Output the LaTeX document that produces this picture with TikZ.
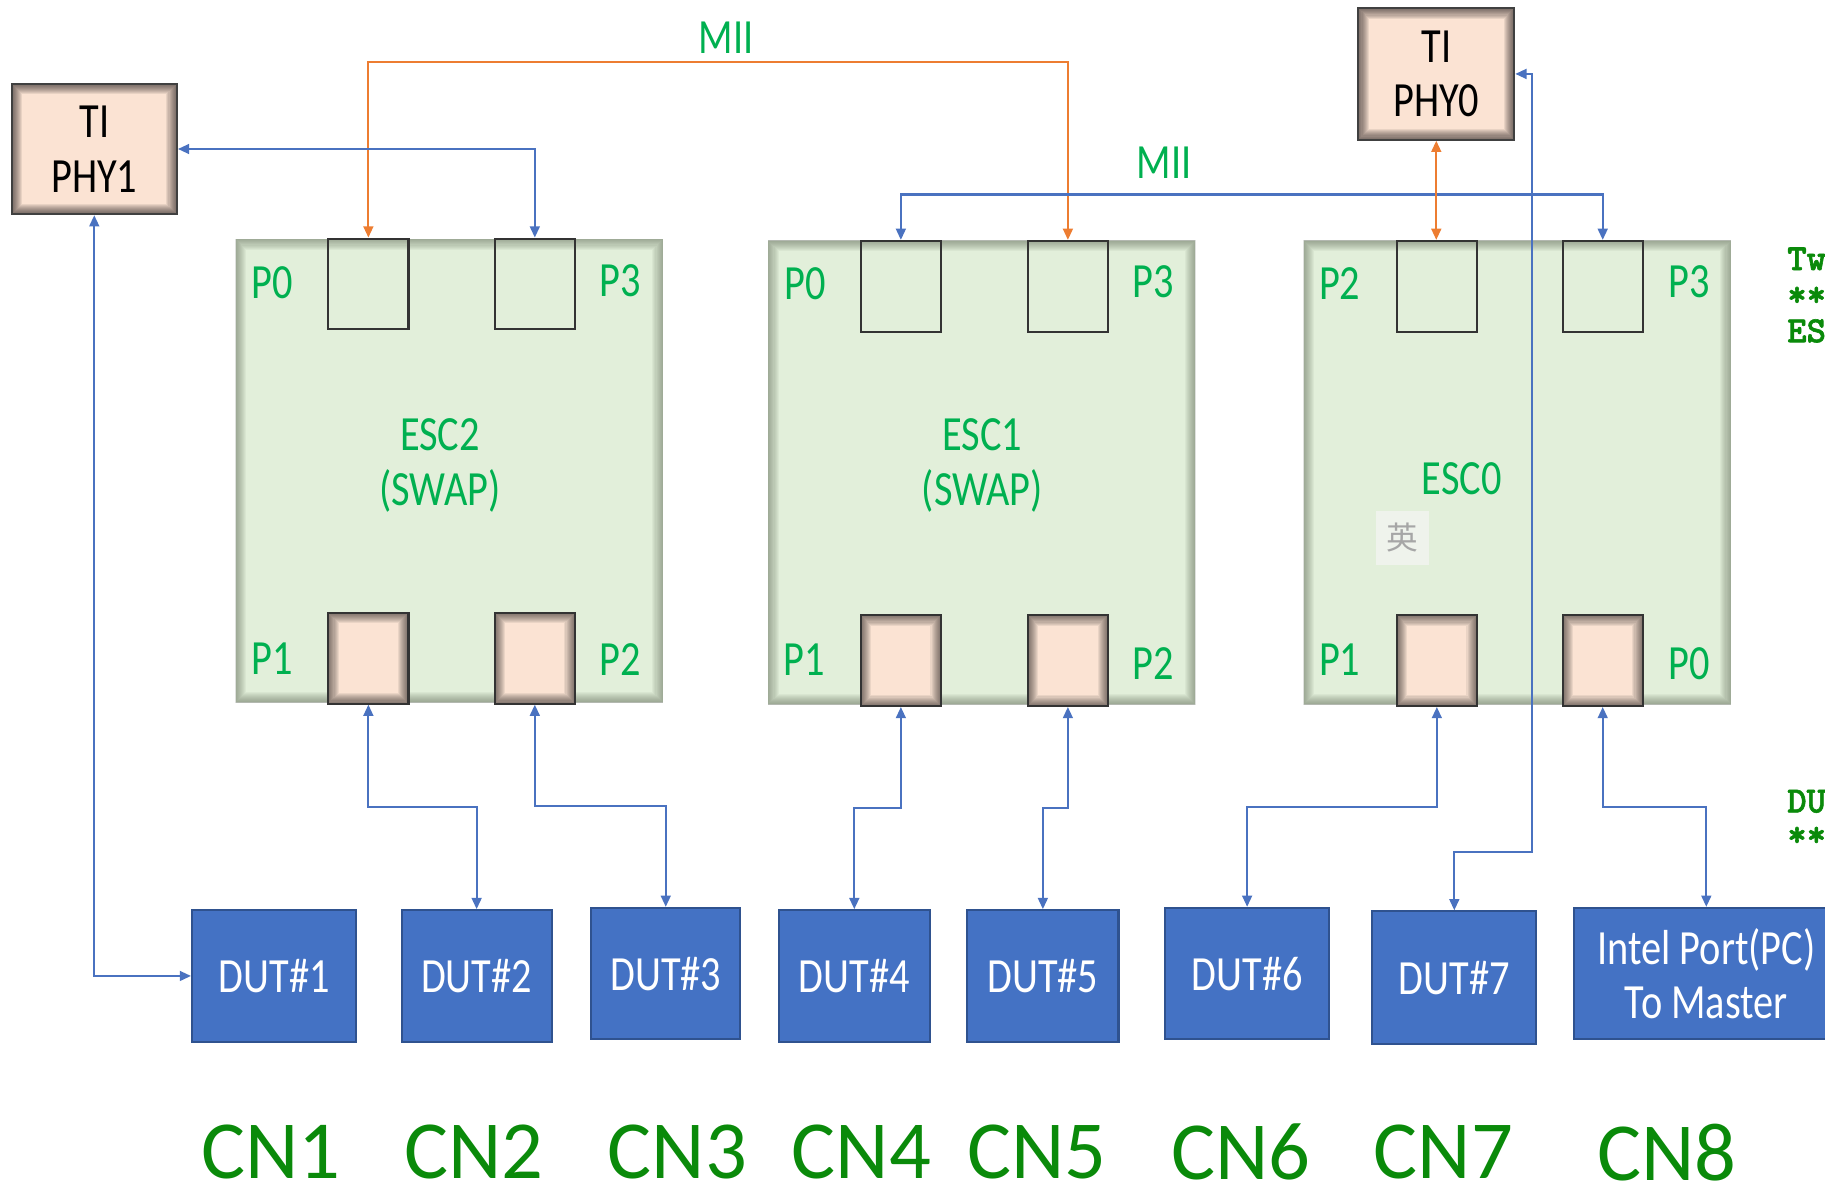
\documentclass[tikz,border=0pt]{standalone}
\usepackage{fontspec}
\setmainfont{Carlito}
\newfontfamily\narrowfont[FakeStretch=0.82]{Carlito}
\newfontfamily\codefont[FakeBold=1.6]{lmmonolt10-bold.otf}
\newfontfamily\cjkfont{Noto Sans CJK SC}
\usetikzlibrary{arrows.meta}
\definecolor{escfill}{HTML}{E2EFDA}
\definecolor{escshade}{HTML}{4E5A48}
\definecolor{phyfill}{HTML}{FBE3D3}
\definecolor{physhade}{HTML}{2A2424}
\definecolor{dutblue}{HTML}{4472C4}
\definecolor{dutedge}{HTML}{2F528F}
\definecolor{wireblue}{HTML}{4A72C0}
\definecolor{wireorange}{HTML}{ED7D31}
\definecolor{taggreen}{HTML}{00B050}
\definecolor{cngreen}{HTML}{0A8A0A}
\newcommand\pxu{0.011639cm}
\newcommand\lbl{\narrowfont\fontsize{14}{15.6}\selectfont}

\tikzset{
  glow/.style 2 args={path picture={
    \foreach \i in {1,...,10}{
      \draw[#1,opacity=#2,line width=\i*0.6pt]
        (path picture bounding box.north west) rectangle (path picture bounding box.south east);
    }}},
  escbox/.style={rectangle,inner sep=0pt,fill=escfill,glow={escshade}{0.055},
    minimum width=367*\pxu,minimum height=398*\pxu},
  port/.style={rectangle,inner sep=0pt,draw=black!80,line width=.6pt,
    minimum width=69*\pxu,minimum height=78*\pxu},
  portlit/.style={port,fill=phyfill,glow={physhade}{0.08}},
  phybox/.style={rectangle,inner sep=0pt,fill=phyfill,glow={physhade}{0.085},draw=black!75,
    line width=.6pt,align=center,font=\lbl},
  dutbox/.style={rectangle,inner sep=0pt,fill=dutblue,draw=dutedge,line width=.6pt,
    text=white,font=\lbl,align=center,minimum height=113*\pxu},
  tag/.style={text=taggreen,font=\lbl,inner sep=0pt,align=center},
  cn/.style={text=cngreen,font=\fontsize{23.5}{26}\selectfont,inner sep=0pt},
  note/.style={text=cngreen,font=\codefont\fontsize{10.5}{10.5}\selectfont,
    anchor=base west,inner sep=0pt},
  link/.style={wireblue,line width=.6pt,{Triangle[length=3.2pt,width=2.8pt]}-{Triangle[length=3.2pt,width=2.8pt]}},
  mii/.style={link,wireorange}
}

\begin{document}
\begin{tikzpicture}[x=\pxu,y=-\pxu,line join=miter]
  \useasboundingbox (0,0) rectangle (1568,1024);

  % PHY chips
  \node[phybox,minimum width=142*\pxu,minimum height=112*\pxu] (phy1) at (81,128) {TI\\PHY1};
  \node[phybox,minimum width=134*\pxu,minimum height=113*\pxu] (phy0) at (1234,63.5) {TI\\PHY0};

  % ESC2
  \node[escbox] (esc2) at (386,404.5) {};
  \node[port] (esc2p0) at (316.5,244) {};
  \node[port] (esc2p3) at (459.5,244) {};
  \node[portlit] (esc2p1) at (316.5,565.5) {};
  \node[portlit] (esc2p2) at (459.5,565.5) {};
  \node[tag] (esc2t) at (378,400) {ESC2\\(SWAP)};
  \node[tag] (esc2l0) at (234,243) {P0};
  \node[tag] (esc2l3) at (533,241) {P3};
  \node[tag] (esc2l1) at (234,566) {P1};
  \node[tag] (esc2l2) at (533,567) {P2};

  % ESC1
  \node[escbox] (esc1) at (843.5,406) {};
  \node[port] (esc1p0) at (774,246) {};
  \node[port] (esc1p3) at (917.5,246) {};
  \node[portlit] (esc1p1) at (774,567.5) {};
  \node[portlit] (esc1p2) at (917.5,567.5) {};
  \node[tag] (esc1t) at (844,400) {ESC1\\(SWAP)};
  \node[tag] (esc1l0) at (692,244) {P0};
  \node[tag] (esc1l3) at (991,242) {P3};
  \node[tag] (esc1l1) at (691,567) {P1};
  \node[tag] (esc1l2) at (991,570) {P2};

  % ESC0
  \node[escbox] (esc0) at (1303.5,406) {};
  \node[port] (esc0p2) at (1234.5,246) {};
  \node[port] (esc0p3) at (1377,246) {};
  \node[portlit] (esc0p1) at (1234.5,567.5) {};
  \node[portlit] (esc0p0) at (1377,567.5) {};
  \node[tag] (esc0t) at (1256,411) {ESC0};
  \node[tag] (esc0l2) at (1151,244) {P2};
  \node[tag] (esc0l3) at (1451,242) {P3};
  \node[tag] (esc0l1) at (1151,567) {P1};
  \node[tag] (esc0l0) at (1451,570) {P0};
  \node[fill=black!4,opacity=.7,text opacity=1,text=black!35,minimum size=46*\pxu,inner sep=0pt,
    font=\cjkfont\fontsize{9}{9}\selectfont] (ime) at (1205,462) {英};

  % DUTs
  \node[dutbox,minimum width=141*\pxu] (dut1) at (235.5,838.5) {DUT\#1};
  \node[dutbox,minimum width=129*\pxu] (dut2) at (409.5,838.5) {DUT\#2};
  \node[dutbox,minimum width=128*\pxu] (dut3) at (572,836.5) {DUT\#3};
  \node[dutbox,minimum width=130*\pxu] (dut4) at (734,838.5) {DUT\#4};
  \node[dutbox,minimum width=130*\pxu] (dut5) at (896,838.5) {DUT\#5};
  \node[dutbox,minimum width=141*\pxu] (dut6) at (1071.5,836.5) {DUT\#6};
  \node[dutbox,minimum width=141*\pxu,minimum height=114*\pxu] (dut7) at (1249.5,840) {DUT\#7};
  \node[dutbox,minimum width=250*\pxu] (intel) at (1477,836.5) {};
  \node[text=white,font=\lbl,align=center,inner sep=0pt] (intelt) at (1466,836.5) {Intel Port(PC)\\To Master};

  % connectors
  \draw[mii] (esc2p0.north) -- ++(0,-151) -| (esc1p3.north);
  \node[tag] (mii2) at (624,32) {MII};
  \draw[link] (phy1.east) -| (esc2p3.north);
  \draw[link] (esc1p0.north) -- ++(0,-39) -| (esc0p3.north);
  \node[tag] (mii1) at (1000,140) {MII};
  \draw[mii] (phy0.south) -- (phy0.south |- esc0p2.north);
  \draw[link] (phy1.south) |- (dut1.west);
  \draw[link] (esc2p1.south) -- ++(0,88) -| (dut2.north);
  \draw[link] (esc2p2.south) -- ++(0,87) -| (dut3.north);
  \draw[link] (esc1p1.south) -- ++(0,87) -| (dut4.north);
  \draw[link] (esc1p2.south) -- ++(0,87) -| (dut5.north);
  \draw[link] (esc0p1.south) -- ++(0,86) -| (dut6.north);
  \draw[link] (dut7.north) -- ++(0,-50) -- ++(67,0) |- (phy0.east);
  \draw[link] (esc0p0.south) -- ++(0,86) -| (intelt |- intel.north);

  % connector names
  \foreach \k/\x in {1/233,2/407,3/582,4/740,5/891,6/1066,7/1240,8/1432}{
    \node[cn] (cn\k) at (\x,990) {CN\k};
  }

  % notes cut at the page edge
  \node[note] (noteA) at (1535,232) {Tw};
  \node[note] (noteB) at (1535,263) {**};
  \node[note] (noteC) at (1535,294) {ES};
  \node[note] (noteD) at (1535,698) {DU};
  \node[note] (noteE) at (1535,727) {**};
\end{tikzpicture}
\end{document}
